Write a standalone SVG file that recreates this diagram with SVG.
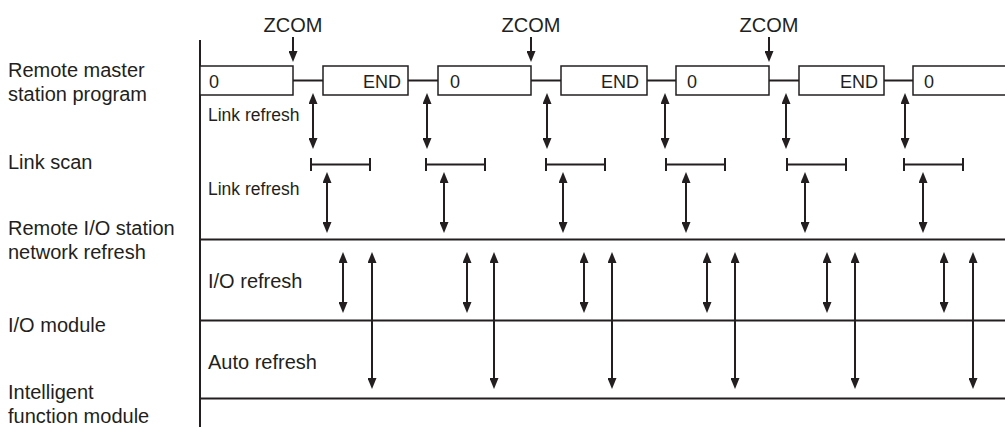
<svg xmlns="http://www.w3.org/2000/svg" width="1005" height="427" viewBox="0 0 1005 427">
<style>
text{font-family:"Liberation Sans",Arial,sans-serif;fill:#231f20}
.lbl{font-size:20px}
.zc{font-size:20px;text-anchor:middle}
.bx{font-size:18px}
.bxe{font-size:18px;text-anchor:end}
.ir{font-size:17.5px}
.ir2{font-size:20px}
.box{fill:#fff;stroke:#231f20;stroke-width:1.5}
.ln{stroke:#231f20;stroke-width:2;fill:none}
.ar{stroke:#231f20;stroke-width:2;fill:none;marker-end:url(#ah)}
.da{stroke:#231f20;stroke-width:2;fill:none;marker-start:url(#ah);marker-end:url(#ah)}
</style>
<defs>
<marker id="ah" markerUnits="userSpaceOnUse" markerWidth="11" markerHeight="9" refX="4" refY="4.5" orient="auto-start-reverse">
<path d="M0,0 L11,4.5 L0,9 z" fill="#231f20"/>
</marker>
</defs>
<rect width="1005" height="427" fill="#fff"/>
<g id="row-labels">
<text class="lbl" x="8" y="77">Remote master</text>
<text class="lbl" x="8" y="101">station program</text>
<text class="lbl" x="8" y="169">Link scan</text>
<text class="lbl" x="8" y="235">Remote I/O station</text>
<text class="lbl" x="8" y="259">network refresh</text>
<text class="lbl" x="8" y="332">I/O module</text>
<text class="lbl" x="8" y="399">Intelligent</text>
<text class="lbl" x="8" y="423">function module</text>
</g>
<g id="axes">
<line class="ln" x1="200" y1="40" x2="200" y2="427"/>
<line class="ln" x1="200" y1="239.5" x2="1005" y2="239.5"/>
<line class="ln" x1="200" y1="320.5" x2="1005" y2="320.5"/>
<line class="ln" x1="200" y1="398.5" x2="1005" y2="398.5"/>
</g>
<g id="zcom-labels">
<text class="zc" x="293" y="32">ZCOM</text>
<text class="zc" x="531" y="32">ZCOM</text>
<text class="zc" x="769" y="32">ZCOM</text>
</g>
<g id="box1"><rect class="box" x="200" y="66" width="93" height="29"/><text class="bx" x="209" y="88">0</text></g>
<g id="box2"><rect class="box" x="323" y="66" width="85" height="29"/><text class="bxe" x="401" y="88">END</text></g>
<g id="box3"><rect class="box" x="438" y="66" width="93" height="29"/><text class="bx" x="450" y="88">0</text></g>
<g id="box4"><rect class="box" x="561" y="66" width="86" height="29"/><text class="bxe" x="639" y="88">END</text></g>
<g id="box5"><rect class="box" x="676" y="66" width="93" height="29"/><text class="bx" x="687" y="88">0</text></g>
<g id="box6"><rect class="box" x="799" y="66" width="85" height="29"/><text class="bxe" x="878" y="88">END</text></g>
<g id="box7"><rect class="box" x="913" y="66" width="100" height="29"/><text class="bx" x="924" y="88">0</text></g>
<g id="inner-labels">
<text class="ir" x="208" y="121">Link refresh</text>
<text class="ir" x="208" y="195">Link refresh</text>
<text class="ir2" x="208" y="288">I/O refresh</text>
<text class="ir2" x="208" y="369">Auto refresh</text>
</g>
<g id="link-scan">
<path class="ln" d="M311,164.5H370M311,158V171M370,158V171"/>
<path class="ln" d="M426,164.5H485M426,158V171M485,158V171"/>
<path class="ln" d="M546,164.5H605M546,158V171M605,158V171"/>
<path class="ln" d="M666,164.5H725M666,158V171M725,158V171"/>
<path class="ln" d="M787,164.5H846M787,158V171M846,158V171"/>
<path class="ln" d="M904,164.5H963M904,158V171M963,158V171"/>
</g>
<g id="connectors">
<line class="ln" x1="293" y1="80.5" x2="323" y2="80.5"/>
<line class="ln" x1="408" y1="80.5" x2="438" y2="80.5"/>
<line class="ln" x1="531" y1="80.5" x2="561" y2="80.5"/>
<line class="ln" x1="647" y1="80.5" x2="676" y2="80.5"/>
<line class="ln" x1="769" y1="80.5" x2="799" y2="80.5"/>
<line class="ln" x1="884" y1="80.5" x2="913" y2="80.5"/>
<line class="ar" x1="293" y1="37" x2="293" y2="55"/>
<line class="ar" x1="531" y1="37" x2="531" y2="55"/>
<line class="ar" x1="769" y1="37" x2="769" y2="55"/>
<line class="da" x1="313" y1="100" x2="313" y2="142"/>
<line class="da" x1="427" y1="100" x2="427" y2="142"/>
<line class="da" x1="547" y1="100" x2="547" y2="142"/>
<line class="da" x1="665" y1="100" x2="665" y2="142"/>
<line class="da" x1="786" y1="100" x2="786" y2="142"/>
<line class="da" x1="905" y1="100" x2="905" y2="142"/>
<line class="da" x1="327" y1="179" x2="327" y2="226"/>
<line class="da" x1="444" y1="179" x2="444" y2="226"/>
<line class="da" x1="563" y1="179" x2="563" y2="226"/>
<line class="da" x1="686" y1="179" x2="686" y2="226"/>
<line class="da" x1="805" y1="179" x2="805" y2="226"/>
<line class="da" x1="923" y1="179" x2="923" y2="226"/>
<line class="da" x1="343" y1="259" x2="343" y2="306"/>
<line class="da" x1="467" y1="259" x2="467" y2="306"/>
<line class="da" x1="584" y1="259" x2="584" y2="306"/>
<line class="da" x1="707" y1="259" x2="707" y2="306"/>
<line class="da" x1="827" y1="259" x2="827" y2="306"/>
<line class="da" x1="944" y1="259" x2="944" y2="306"/>
<line class="da" x1="372" y1="259" x2="372" y2="382"/>
<line class="da" x1="494" y1="259" x2="494" y2="382"/>
<line class="da" x1="612" y1="259" x2="612" y2="382"/>
<line class="da" x1="735" y1="259" x2="735" y2="382"/>
<line class="da" x1="855" y1="259" x2="855" y2="382"/>
<line class="da" x1="973" y1="259" x2="973" y2="382"/>
</g>
</svg>
